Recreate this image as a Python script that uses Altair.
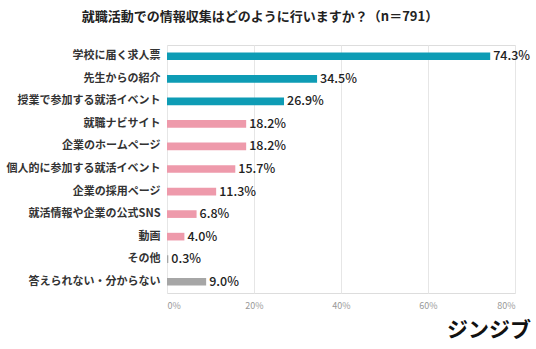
import altair as alt
import pandas as pd

categories = ["学校に届く求人票", "先生からの紹介", "授業で参加する就活イベント", "就職ナビサイト",
              "企業のホームページ", "個人的に参加する就活イベント", "企業の採用ページ",
              "就活情報や企業の公式SNS", "動画", "その他", "答えられない・分からない"]
values = [74.3, 34.5, 26.9, 18.2, 18.2, 15.7, 11.3, 6.8, 4.0, 0.3, 9.0]
groups = ["a", "a", "a", "b", "b", "b", "b", "b", "b", "c", "c"]
ticks = [0, 20, 40, 60, 80]

df = pd.DataFrame({"cat": categories, "val": values, "grp": groups,
                   "lab": [f"{v:.1f}%" for v in values]})

FONT = "Noto Sans CJK JP"

y = alt.Y("cat:N", sort=categories, title=None,
          scale=alt.Scale(paddingInner=0.66, paddingOuter=0.33),
          axis=alt.Axis(domain=False, ticks=False, labelPadding=7, labelFontSize=11,
                        labelFontWeight="bold", labelColor="#333333", labelFont=FONT,
                        labelLimit=200))
x = alt.X("val:Q", title=None, scale=alt.Scale(domain=[0, 80], nice=False),
          axis=alt.Axis(values=ticks, labelExpr="datum.value + '%'", domain=False, ticks=False,
                        grid=True, gridColor="#e6e6e6", labelColor="#999999", labelFontSize=9,
                        labelFont=FONT, labelPadding=8))

bars = alt.Chart(df).mark_bar().encode(
    x=x, y=y,
    color=alt.Color("grp:N", scale=alt.Scale(domain=["a", "b", "c"],
                                             range=["#0e9cb5", "#ee9aab", "#a6a6a6"]), legend=None),
)
text = alt.Chart(df).mark_text(align="left", baseline="middle", dx=3, fontSize=12.5,
                                fontWeight=500, color="#222222", font=FONT).encode(
    x="val:Q", y=alt.Y("cat:N", sort=categories), text="lab:N")

title = alt.Chart(pd.DataFrame({"t": ["就職活動での情報収集はどのように行いますか？（n＝791）"]})).mark_text(
    align="center", baseline="middle", fontSize=13, fontWeight="bold", color="#222222", font=FONT
).encode(x=alt.value(93), y=alt.value(-28), text="t:N")

logo = alt.Chart(pd.DataFrame({"t": ["ジンジブ"]})).mark_text(
    align="right", baseline="middle", fontSize=21, fontWeight="bold", color="#111111", font=FONT
).encode(x=alt.value(364), y=alt.value(286), text="t:N")

chart = alt.layer(bars, text, title, logo).properties(
    width=348, height=248,
    autosize=alt.AutoSizeParams(type="none"),
    padding={"left": 167, "top": 45, "right": 21, "bottom": 56},
).configure_view(stroke=None).configure(background="white")

chart.save("out.html", embed_options={"renderer": "svg", "actions": False})
